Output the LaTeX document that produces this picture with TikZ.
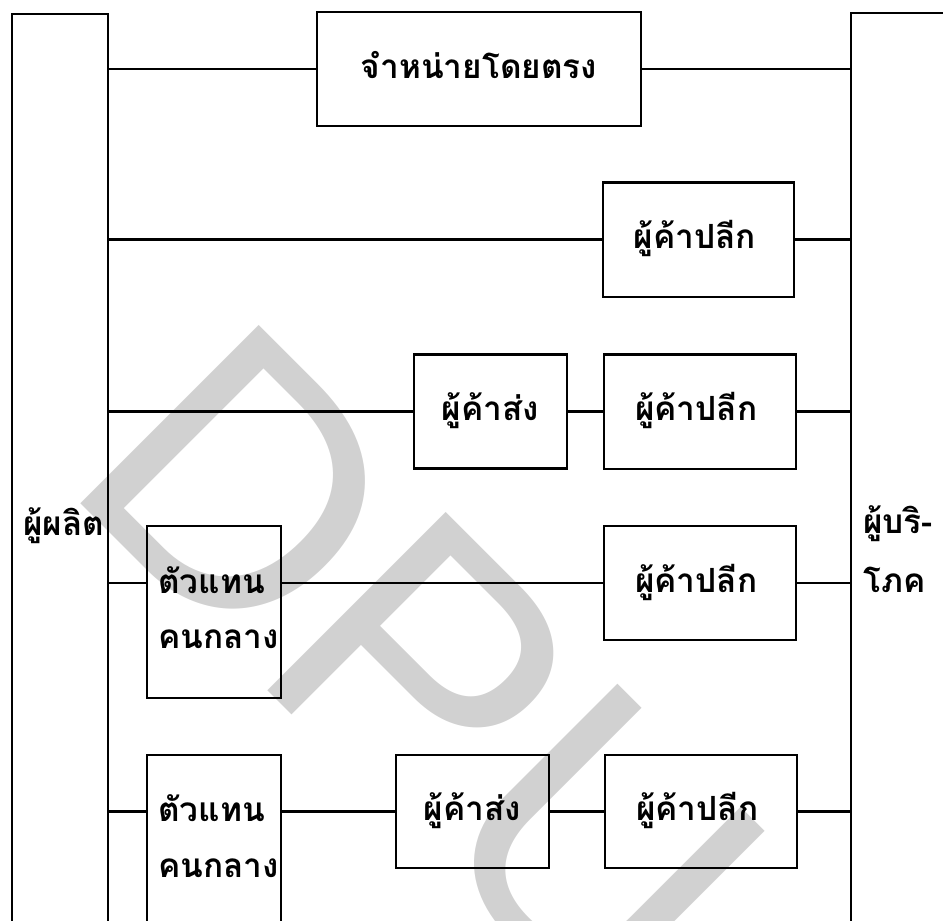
\documentclass[tikz,border=0pt]{standalone}
\usepackage{fontspec}
\newfontfamily\thai[Script=Thai]{Loma}
\newfontfamily\wmfont{Liberation Sans}
\tikzset{
  thaitext/.style={font=\thai\bfseries\fontsize{25pt}{30pt}\selectfont},
  box/.style={draw, line width=2pt, inner sep=0pt, thaitext, text height=13.5pt, text depth=0pt},
  column/.style={draw, line width=1.8pt, inner sep=0pt, anchor=north west},
  conn/.style={line width=1.7pt},
  lbl/.style={inner sep=0pt, anchor=base west, thaitext},
  retail/.style={box, minimum width=144pt, minimum height=86pt, text width=97.5pt, align=left},
  whole/.style={box, minimum width=114.75pt, minimum height=85.5pt, align=center},
  agent/.style={box, minimum width=100.5pt},
  watermark/.style={inner sep=0pt, anchor=base west, rotate=-45, text=black!18, font=\wmfont\fontsize{275pt}{275pt}\selectfont}
}
\begin{document}
\begin{tikzpicture}[x=0.75pt,y=-0.75pt]
\useasboundingbox (0,0) rectangle (943,921);
% watermark
\node[watermark] (wm) at (59.5,482.5) {DPU};
% columns
\node[column, minimum width=72pt, minimum height=750pt] (prod) at (11,13) {};
\node[column, minimum width=150pt, minimum height=750pt] (cons) at (850,12) {};
\node[lbl] (prodl) at (23,535) {ผู้ผลิต};
\node[lbl] (consl1) at (863,533) {ผู้บริ-};
\node[lbl] (consl2) at (863,592) {โภค};
% row 1
\node[box, minimum width=243pt, minimum height=85.5pt] (direct) at (479,69) {จำหน่ายโดยตรง};
\draw[conn] (prod.east |- direct.west) -- (direct.west);
\draw[conn] (direct.east) -- (cons.west |- direct.east);
% row 2
\node[retail, minimum width=143.25pt] (ret2) at (698.5,239.5) {ผู้ค้าปลีก};
\draw[conn] (prod.east |- ret2.west) -- (ret2.west);
\draw[conn] (ret2.east) -- (cons.west |- ret2.east);
% row 3
\node[whole] (ws3) at (490.5,411.5) {ผู้ค้าส่ง};
\node[retail] (ret3) at (700,411.5) {ผู้ค้าปลีก};
\draw[conn] (prod.east |- ws3.west) -- (ws3.west);
\draw[conn] (ws3.east) -- (ret3.west);
\draw[conn] (ret3.east) -- (cons.west |- ret3.east);
% row 4
\node[agent, minimum height=129pt] (ag4) at (214,612) {};
\node[lbl] (ag4a) at (158,593) {ตัวแทน};
\node[lbl] (ag4b) at (158,648) {คนกลาง};
\node[retail, minimum height=85.5pt] (ret4) at (700,583) {ผู้ค้าปลีก};
\draw[conn] (prod.east |- ret4.west) -- (ag4.west |- ret4.west);
\draw[conn] (ag4.east |- ret4.west) -- (ret4.west);
\draw[conn] (ret4.east) -- (cons.west |- ret4.east);
% row 5
\node[agent, minimum height=225pt] (ag5) at (214,905) {};
\node[lbl] (ag5a) at (158,821) {ตัวแทน};
\node[lbl] (ag5b) at (158,877) {คนกลาง};
\node[whole, minimum height=84.75pt] (ws5) at (472.5,811.5) {ผู้ค้าส่ง};
\node[retail, minimum height=84.75pt] (ret5) at (701,811.5) {ผู้ค้าปลีก};
\draw[conn] (prod.east |- ws5.west) -- (ag5.west |- ws5.west);
\draw[conn] (ag5.east |- ws5.west) -- (ws5.west);
\draw[conn] (ws5.east) -- (ret5.west);
\draw[conn] (ret5.east) -- (cons.west |- ret5.east);
\end{tikzpicture}
\end{document}
